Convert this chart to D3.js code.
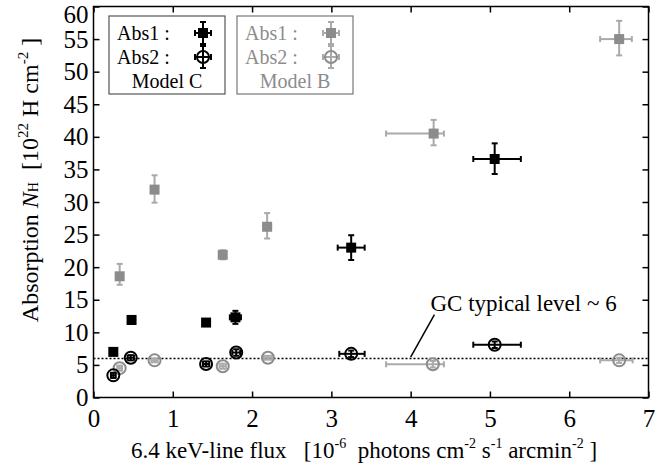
<!DOCTYPE html>
<html lang="en">
<head>
<meta charset="UTF-8"/>
<title>Absorption vs 6.4 keV line flux</title>
<script src="https://d3js.org/d3.v7.min.js"></script>
<style>
  body { margin: 0; background: #fff; }
  text { font-family: "Liberation Serif", "DejaVu Serif", serif; }
</style>
</head>
<body>
<script>
    // Each row: [x, y, xMinus, xPlus, yMinus, yPlus]
    var modelB_abs1 = [
        [0.33, 18.6, 0.02, 0.02, 1.3, 1.9],
        [0.77, 31.9, 0.02, 0.02, 2.0, 2.2],
        [1.63, 21.9, 0.03, 0.03, 0.7, 0.7],
        [2.19, 26.2, 0.05, 0.05, 1.8, 2.1],
        [4.29, 40.5, 0.60, 0.13, 1.8, 2.1],
        [6.63, 55.0, 0.24, 0.16, 2.5, 2.8]
    ];
    var modelB_abs2 = [
        [0.33, 4.5, 0.03, 0.03, 0.4, 0.4],
        [0.77, 5.7, 0.04, 0.04, 0.3, 0.3],
        [1.63, 4.8, 0.04, 0.04, 0.4, 0.4],
        [2.20, 6.1, 0.05, 0.05, 0.3, 0.3],
        [4.28, 5.1, 0.59, 0.14, 0.5, 0.5],
        [6.63, 5.7, 0.24, 0.17, 0.4, 0.4]
    ];
    var modelC_abs1 = [
        [0.25, 7.0, 0.00, 0.00, 0.0, 0.0],
        [0.48, 11.9, 0.03, 0.03, 0.6, 0.6],
        [1.42, 11.5, 0.03, 0.03, 0.3, 0.3],
        [1.79, 12.3, 0.07, 0.07, 1.0, 1.0],
        [3.25, 23.0, 0.17, 0.17, 1.9, 1.9],
        [5.06, 36.6, 0.27, 0.33, 2.3, 2.4]
    ];
    var modelC_abs2 = [
        [0.25, 3.4, 0.03, 0.03, 0.4, 0.4],
        [0.47, 6.1, 0.04, 0.04, 0.4, 0.4],
        [1.42, 5.15, 0.04, 0.04, 0.4, 0.4],
        [1.80, 6.9, 0.05, 0.05, 0.5, 0.5],
        [3.25, 6.7, 0.15, 0.17, 0.5, 0.5],
        [5.06, 8.1, 0.27, 0.33, 0.5, 0.5]
    ];
    var gcLevel = 6;
    var xTicks = [0, 1, 2, 3, 4, 5, 6, 7];
    var yTicks = [0, 5, 10, 15, 20, 25, 30, 35, 40, 45, 50, 55, 60];

    var w = 662, h = 467;
    var pLeft = 93.5, pRight = 648.5, pTop = 6.5, pBottom = 397.5;

    var svg = d3.select("body").append("svg")
        .attr("width", w)
        .attr("height", h);

    var x = d3.scaleLinear().domain([0, 7]).range([pLeft, pRight]);
    var y = d3.scaleLinear().domain([0, 60]).range([pBottom, pTop]);

    // Frame
    svg.append("rect")
        .attr("x", pLeft).attr("y", pTop)
        .attr("width", pRight - pLeft).attr("height", pBottom - pTop)
        .attr("fill", "none").attr("stroke", "#000").attr("stroke-width", 1.5);

    // Axes with inward ticks, mirrored on all sides
    var tickLen = 6;
    function tickAxis(axis, tr) {
        var g = svg.append("g").attr("transform", tr).call(axis);
        g.select(".domain").remove();
        g.selectAll("line").attr("stroke", "#000").attr("stroke-width", 1.5);
        g.selectAll("text").attr("font-size", 25).attr("fill", "#000")
            .attr("font-family", "Liberation Serif, serif");
        return g;
    }
    tickAxis(d3.axisBottom(x).tickValues(xTicks).tickSize(-tickLen).tickPadding(12).tickFormat(d3.format("d")),
        "translate(0," + pBottom + ")");
    tickAxis(d3.axisTop(x).tickValues(xTicks).tickSize(-tickLen).tickFormat(""),
        "translate(0," + pTop + ")");
    var yAx = tickAxis(d3.axisLeft(y).tickValues(yTicks).tickSize(-tickLen).tickPadding(5).tickFormat(d3.format("d")),
        "translate(" + pLeft + ",0)");
    // keep the top label inside the picture
    yAx.selectAll("text").filter(d => d === 60).attr("dy", "0.62em");
    tickAxis(d3.axisRight(y).tickValues(yTicks).tickSize(-tickLen).tickFormat(""),
        "translate(" + pRight + ",0)");

    // GC typical level dotted line
    svg.append("line")
        .attr("x1", x(0)).attr("x2", x(7))
        .attr("y1", y(gcLevel)).attr("y2", y(gcLevel))
        .attr("stroke", "#000").attr("stroke-width", 1.5)
        .attr("stroke-dasharray", "2,2");

    svg.append("line")
        .attr("x1", x(4.0)).attr("y1", y(6.2))
        .attr("x2", x(4.3)).attr("y2", y(12.7))
        .attr("stroke", "#000").attr("stroke-width", 1.5);
    svg.append("text")
        .attr("x", x(4.25)).attr("y", y(13.3))
        .attr("font-size", 23)
        .text("GC typical level ~ 6");

    // Error bars + markers
    var cap = 3;
    function drawSeries(data, colour, barColour, shape) {
        var g = svg.append("g");
        var pts = g.selectAll("g").data(data).enter().append("g");
        pts.each(function (d) {
            var p = d3.select(this);
            var cx = x(d[0]), cy = y(d[1]);
            var x0 = x(d[0] - d[2]), x1 = x(d[0] + d[3]);
            var y0 = y(d[1] - d[4]), y1 = y(d[1] + d[5]);
            var segs = [];
            if (d[2] + d[3] > 0) {
                segs.push([x0, cy, x1, cy], [x0, cy - cap, x0, cy + cap], [x1, cy - cap, x1, cy + cap]);
            }
            if (d[4] + d[5] > 0) {
                segs.push([cx, y0, cx, y1], [cx - cap, y0, cx + cap, y0], [cx - cap, y1, cx + cap, y1]);
            }
            p.selectAll("line").data(segs).enter().append("line")
                .attr("x1", s => s[0]).attr("y1", s => s[1])
                .attr("x2", s => s[2]).attr("y2", s => s[3])
                .attr("stroke", barColour).attr("stroke-width", 2);
            if (shape === "square") {
                p.append("rect")
                    .attr("x", cx - 5).attr("y", cy - 5)
                    .attr("width", 10).attr("height", 10)
                    .attr("fill", colour);
            } else {
                p.append("circle")
                    .attr("cx", cx).attr("cy", cy).attr("r", 6)
                    .attr("fill", "none").attr("stroke", colour).attr("stroke-width", 2);
            }
        });
    }
    drawSeries(modelB_abs2, "#8c8c8c", "#aaaaaa", "circle");
    drawSeries(modelB_abs1, "#8c8c8c", "#aaaaaa", "square");
    drawSeries(modelC_abs2, "#000", "#000", "circle");
    drawSeries(modelC_abs1, "#000", "#000", "square");

    // Legends
    function legend(x0, label, textColour, boxColour, markColour, barColour) {
        var g = svg.append("g");
        g.append("rect")
            .attr("x", x0).attr("y", 16)
            .attr("width", 116).attr("height", 78)
            .attr("fill", "#fff").attr("stroke", boxColour).attr("stroke-width", 1.2);
        var rows = [["Abs1 :", "square", 33], ["Abs2 :", "circle", 57]];
        rows.forEach(function (r) {
            g.append("text").attr("x", x0 + 8).attr("y", r[2] + 7)
                .attr("font-size", 20).attr("fill", textColour).text(r[0]);
            var mx = x0 + 94, my = r[2];
            var segs = [[mx - 8, my, mx + 8, my], [mx - 8, my - 3, mx - 8, my + 3], [mx + 8, my - 3, mx + 8, my + 3],
                        [mx, my - 11, mx, my + 11], [mx - 3, my - 11, mx + 3, my - 11], [mx - 3, my + 11, mx + 3, my + 11]];
            g.selectAll(null).data(segs).enter().append("line")
                .attr("x1", s => s[0]).attr("y1", s => s[1])
                .attr("x2", s => s[2]).attr("y2", s => s[3])
                .attr("stroke", barColour).attr("stroke-width", 2);
            if (r[1] === "square") {
                g.append("rect").attr("x", mx - 5).attr("y", my - 5)
                    .attr("width", 10).attr("height", 10).attr("fill", markColour);
            } else {
                g.append("circle").attr("cx", mx).attr("cy", my).attr("r", 6)
                    .attr("fill", "none").attr("stroke", markColour).attr("stroke-width", 2);
            }
        });
        g.append("text").attr("x", x0 + 58).attr("y", 88)
            .attr("text-anchor", "middle").attr("font-size", 20)
            .attr("fill", textColour).text(label);
    }
    legend(109, "Model C", "#000", "#555", "#000", "#000");
    legend(237, "Model B", "#8c8c8c", "#777", "#8c8c8c", "#aaaaaa");

    // Y axis label
    var yl = svg.append("text")
        .attr("transform", "translate(38,180) rotate(-90)")
        .attr("text-anchor", "middle").attr("font-size", 24)
        .attr("xml:space", "preserve");
    yl.append("tspan").text("Absorption ");
    yl.append("tspan").attr("font-style", "italic").text("N");
    yl.append("tspan").attr("font-size", 14).text("H");
    yl.append("tspan").text("  [10");
    yl.append("tspan").attr("font-size", 15).attr("dy", -10).text("22");
    yl.append("tspan").attr("dy", 10).text(" H cm");
    yl.append("tspan").attr("font-size", 15).attr("dy", -10).text("-2");
    yl.append("tspan").attr("dy", 10).text(" ]");

    // X axis label
    var xl = svg.append("text")
        .attr("x", 364).attr("y", 458)
        .attr("text-anchor", "middle").attr("font-size", 23)
        .attr("xml:space", "preserve");
    xl.append("tspan").text("6.4 keV-line flux   [10");
    xl.append("tspan").attr("font-size", 14).attr("dy", -10).text("-6");
    xl.append("tspan").attr("dy", 10).text("  photons cm");
    xl.append("tspan").attr("font-size", 14).attr("dy", -10).text("-2");
    xl.append("tspan").attr("dy", 10).text(" s");
    xl.append("tspan").attr("font-size", 14).attr("dy", -10).text("-1");
    xl.append("tspan").attr("dy", 10).text(" arcmin");
    xl.append("tspan").attr("font-size", 14).attr("dy", -10).text("-2");
    xl.append("tspan").attr("dy", 10).text(" ]");
</script>
</body>
</html>
